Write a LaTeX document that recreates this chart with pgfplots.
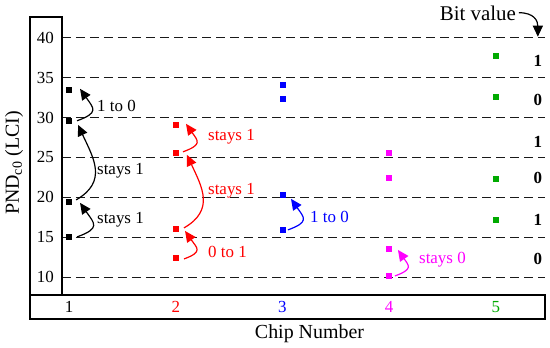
\documentclass[border=0pt]{standalone}
\usepackage{fontspec}
\setmainfont{Liberation Serif}
\usepackage{pgfplots}
\pgfplotsset{compat=1.18}
\usetikzlibrary{arrows.meta}
\definecolor{cgreen}{RGB}{0,170,0}
\definecolor{cred}{RGB}{255,0,0}
\definecolor{cblue}{RGB}{0,0,255}
\definecolor{cmag}{RGB}{255,0,255}
\newcommand{\fs}[1]{\fontsize{#1}{#1}\selectfont}
\tikzset{
  arr/.style={line width=1.2bp, -{Triangle[length=11bp,width=10bp]}},
  sarr/.style={arr, out=20, in=-55, looseness=1.9},
  larr/.style={arr, out=30, in=-65, looseness=1.25},
  lab/.style={anchor=west, inner sep=0pt, font=\fs{17}},
}
\begin{document}
\begin{tikzpicture}
\begin{axis}[
  scale only axis, width=483bp, height=278bp,
  xmin=0.934, xmax=5.46, ymin=7.75, ymax=42.6,
  axis line style={draw=none},
  tick style={draw=none},
  xtick={1,2,3,4,5},
  xticklabels={\textcolor{black}{1},\textcolor{cred}{2},\textcolor{cblue}{3},\textcolor{cmag}{4},\textcolor{cgreen}{5}},
  ytick={10,15,...,40},
  yticklabel style={inner sep=0pt, anchor=east, xshift=-8bp, font=\fs{17}},
  xticklabel style={inner sep=0pt, anchor=center, yshift=-12bp, font=\fs{17}},
  /pgf/number format/assume math mode=true,
  clip=false,
  ymajorgrids, grid style={black!90, dash pattern=on 9bp off 5bp, line width=1bp},
]
\coordinate (bl) at (rel axis cs:0,0);
\coordinate (tr) at (rel axis cs:1,1);
\draw[line width=1.2bp] ([xshift=-32bp]rel axis cs:0,0) rectangle (rel axis cs:0,1);
\draw[line width=1.2bp] ([xshift=-32bp]rel axis cs:0,0) rectangle ([yshift=-24bp]rel axis cs:1,0);
\node[rotate=90, font=\fs{20}] at ([xshift=-48bp,yshift=-7bp]rel axis cs:0,0.5) {PND\textsubscript{c0} (LCI)};
\node[font=\fs{20}, anchor=base, inner sep=0pt] at ([xshift=247.5bp,yshift=-43bp]rel axis cs:0,0) {Chip Number};

\addplot[only marks, mark=square*, mark size=2.5bp, black] coordinates {(1,33.5)(1,29.6)(1,19.5)(1,15.0)};
\addplot[only marks, mark=square*, mark size=2.5bp, cred] coordinates {(2,29.1)(2,25.6)(2,16.0)(2,12.4)};
\addplot[only marks, mark=square*, mark size=2.5bp, cblue] coordinates {(3,34.1)(3,32.35)(3,20.3)(3,15.9)};
\addplot[only marks, mark=square*, mark size=2.5bp, cmag] coordinates {(4,25.6)(4,22.4)(4,13.5)(4,10.2)};
\addplot[only marks, mark=square*, mark size=2.5bp, cgreen] coordinates {(5,37.75)(5,32.6)(5,22.3)(5,17.2)};

% chip 1
\draw[sarr, black] (axis cs:1.075,15.03) to (axis cs:1.103,19.30);
\draw[larr, black] (axis cs:1.066,19.67) to (axis cs:1.084,29.08);
\draw[sarr, black] (axis cs:1.075,29.59) to (axis cs:1.103,33.6);
\node[lab, black] at (axis cs:1.262,31.47) {1 to 0};
\node[lab, black] at (axis cs:1.262,23.3) {stays 1};
\node[lab, black] at (axis cs:1.262,17.16) {stays 1};
% chip 2
\draw[sarr, cred] (axis cs:2.077,12.27) to (axis cs:2.087,15.78);
\draw[larr, cred] (axis cs:2.077,16.16) to (axis cs:2.105,25.32);
\draw[sarr, cred] (axis cs:2.068,25.70) to (axis cs:2.096,29.21);
\node[lab, cred] at (axis cs:2.302,27.58) {stays 1};
\node[lab, cred] at (axis cs:2.302,20.80) {stays 1};
\node[lab, cred] at (axis cs:2.302,13.15) {0 to 1};
% chip 3
\draw[sarr, cblue] (axis cs:3.051,15.91) to (axis cs:3.08,19.8);
\node[lab, cblue] at (axis cs:3.258,17.54) {1 to 0};
% chip 4
\draw[sarr, cmag] (axis cs:4.054,10.14) to (axis cs:4.082,13.40);
\node[lab, cmag] at (axis cs:4.279,12.15) {stays 0};
% bit value
\node[font=\fs{21}, inner sep=0pt] at (axis cs:4.831,43.0) {Bit value};
\draw[arr, black] (axis cs:5.215,43.14) to[out=0,in=90,looseness=1.3] (axis cs:5.393,40.13);
\node[font=\bfseries\fs{17}, inner sep=0pt] at (axis cs:5.393,37.1) {1};
\node[font=\bfseries\fs{17}, inner sep=0pt] at (axis cs:5.393,32.2) {0};
\node[font=\bfseries\fs{17}, inner sep=0pt] at (axis cs:5.393,27.0) {1};
\node[font=\bfseries\fs{17}, inner sep=0pt] at (axis cs:5.393,22.4) {0};
\node[font=\bfseries\fs{17}, inner sep=0pt] at (axis cs:5.393,17.2) {1};
\node[font=\bfseries\fs{17}, inner sep=0pt] at (axis cs:5.393,12.3) {0};
\end{axis}
\pgfresetboundingbox
\path ([shift={(-62bp,-53bp)}]bl) rectangle ([shift={(5bp,17bp)}]tr);
\end{tikzpicture}
\end{document}
